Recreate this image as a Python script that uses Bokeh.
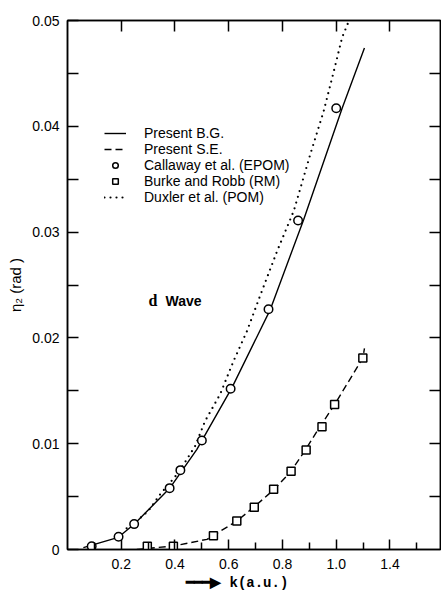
from bokeh.plotting import figure
from bokeh.models import (Range1d, LinearAxis, FixedTicker, Legend, LegendItem,
                          Label, CustomLabelingPolicy)
from bokeh.embed import file_html
from bokeh.resources import INLINE

# ---- data ----
# Present B.G. (solid)
bg_k = [0.059, 0.189, 0.248, 0.382, 0.4815, 0.612, 0.755, 0.879, 1.022, 1.105]
bg_eta = [0.00017, 0.00115, 0.00238, 0.00584, 0.00947, 0.0153, 0.0227, 0.0312, 0.0417, 0.0474]
# Present S.E. (dashed)
se_k = [0.258, 0.394, 0.519, 0.631, 0.693, 0.770, 0.832, 0.885, 0.929, 0.994, 1.099, 1.105]
se_eta = [0.0000, 0.00033, 0.00096, 0.0027, 0.0040, 0.0057, 0.0074, 0.0094, 0.0112, 0.0137, 0.0181, 0.0190]
# Duxler et al. (POM) (dotted)
dx_k = [0.22, 0.258, 0.301, 0.345, 0.413, 0.475, 0.512, 0.568, 0.618, 0.668, 0.717, 0.780, 0.842, 0.904, 0.953, 0.991, 1.022, 1.043]
dx_eta = [0.0020, 0.0027, 0.00364, 0.00522, 0.00726, 0.00978, 0.01214, 0.01467, 0.01782, 0.02065, 0.0240, 0.0282, 0.0320, 0.0374, 0.0414, 0.0452, 0.0484, 0.0497]
# Callaway et al. (EPOM) (circles)
cw_k = [0.09, 0.19, 0.248, 0.38, 0.42, 0.50, 0.607, 0.748, 0.858, 1.0]
cw_eta = [0.0003, 0.0012, 0.0024, 0.0058, 0.0075, 0.0103, 0.0152, 0.0227, 0.0311, 0.0417]
# Burke and Robb (RM) (squares)
br_k = [0.297, 0.394, 0.543, 0.63, 0.695, 0.767, 0.832, 0.888, 0.947, 0.994, 1.099]
br_eta = [0.0003, 0.0003, 0.0013, 0.0027, 0.0040, 0.0057, 0.0074, 0.0094, 0.0116, 0.0137, 0.0181]

# ticks
x_major = [0.2, 0.4, 0.6, 0.8, 1.0, 1.2]
x_labels = ["0.2", "0.4", "0.6", "0.8", "1.0", "1.4"]
x_minor = [0.1, 0.3, 0.5, 0.7, 0.9, 1.1, 1.3]
y_major = [0, 0.01, 0.02, 0.03, 0.04, 0.05]
y_labels = ["0", "0.01", "0.02", "0.03", "0.04", "0.05"]
y_minor = [0.005, 0.015, 0.025, 0.035, 0.045]
y_right = [0.005, 0.01, 0.015, 0.02, 0.025, 0.03, 0.035, 0.04, 0.045]

FONT = "Liberation Sans"

p = figure(width=441, height=594, output_backend="svg", toolbar_location=None,
           x_range=Range1d(0, 1.388), y_range=Range1d(0, 0.05),
           min_border_left=67, min_border_right=1, min_border_top=20, min_border_bottom=45,
           x_axis_location=None, y_axis_location=None)
p.grid.visible = False
p.outline_line_color = "black"
p.outline_line_width = 1.5
p.background_fill_color = "white"
p.border_fill_color = "white"

def style(ax, tick_len, minor_len):
    ax.axis_line_width = 1.5
    ax.axis_line_color = "black"
    ax.major_tick_in = tick_len
    ax.major_tick_out = 0
    ax.minor_tick_in = minor_len
    ax.minor_tick_out = 0
    ax.major_tick_line_width = 1.5
    ax.minor_tick_line_width = 1.5
    ax.major_tick_line_color = "black"
    ax.minor_tick_line_color = "black"
    ax.major_label_text_font = FONT
    ax.major_label_text_font_size = "14px"
    ax.major_label_text_color = "black"
    ax.axis_label_text_color = "black"

# bottom axis
xb = LinearAxis(ticker=FixedTicker(ticks=x_major, minor_ticks=x_minor))
style(xb, 10, 7)
xb.major_label_overrides = dict(zip(x_major, x_labels))
xb.major_label_standoff = 9
xb.axis_label = "━━━▶ k(a.u.)\u00a0\u00a0\u00a0\u00a0"
xb.axis_label_text_font = "Liberation Mono"
xb.axis_label_text_font_style = "bold"
xb.axis_label_text_font_size = "14px"
xb.axis_label_standoff = 3
p.add_layout(xb, "below")

# left axis
yl = LinearAxis(ticker=FixedTicker(ticks=y_major, minor_ticks=y_minor))
style(yl, 11, 11)
yl.major_label_overrides = dict(zip(y_major, y_labels))
yl.major_label_standoff = 8
yl.axis_label = "η₂ (rad )"
yl.axis_label_text_font = FONT
yl.axis_label_text_font_style = "normal"
yl.axis_label_text_font_size = "15px"
yl.axis_label_standoff = 5
p.add_layout(yl, "left")

# top axis (ticks only)
xt = LinearAxis(ticker=FixedTicker(ticks=x_major, minor_ticks=[]))
style(xt, 11, 0)
xt.major_label_policy = CustomLabelingPolicy(code="return new Set()")
xt.major_label_text_font_size = "0px"
xt.major_label_standoff = 0
p.add_layout(xt, "above")

# right axis (ticks only)
yr = LinearAxis(ticker=FixedTicker(ticks=y_right, minor_ticks=[]))
style(yr, 11, 0)
yr.major_label_policy = CustomLabelingPolicy(code="return new Set()")
yr.major_label_text_font_size = "0px"
yr.major_label_standoff = 0
p.add_layout(yr, "right")

# curves
r_bg = p.line(bg_k, bg_eta, line_color="black", line_width=1.4)
r_se = p.line(se_k, se_eta, line_color="black", line_width=1.4, line_dash="7 4")
r_dx = p.line(dx_k, dx_eta, line_color="black", line_width=2.2, line_dash="0 6", line_cap="round")
r_cw = p.scatter(cw_k, cw_eta, marker="circle", size=8.5, fill_color="white",
                 line_color="black", line_width=1.5)
r_br = p.scatter(br_k, br_eta, marker="square", size=8, fill_color="white",
                 line_color="black", line_width=1.5)

legend = Legend(items=[
    LegendItem(label="Present B.G.", renderers=[r_bg]),
    LegendItem(label="Present S.E.", renderers=[r_se]),
    LegendItem(label="Callaway et al. (EPOM)", renderers=[r_cw]),
    LegendItem(label="Burke and Robb (RM)", renderers=[r_br]),
    LegendItem(label="Duxler et al. (POM)", renderers=[r_dx]),
], location=(37, 344), border_line_color=None, background_fill_alpha=0,
    label_text_font=FONT, label_text_font_size="14px", label_text_color="black",
    glyph_width=22, glyph_height=14, label_height=14, label_standoff=18,
    spacing=0, padding=0, margin=0)
p.add_layout(legend)

# "d Wave" annotation
p.add_layout(Label(x=81, y=241, x_units="screen", y_units="screen", text="d",
                   text_font="Liberation Serif", text_font_style="bold",
                   text_font_size="16px", text_color="black"))
p.add_layout(Label(x=98, y=241, x_units="screen", y_units="screen", text="Wave",
                   text_font=FONT, text_font_style="bold",
                   text_font_size="14px", text_color="black"))

open("out.html", "w").write(file_html(p, INLINE))
